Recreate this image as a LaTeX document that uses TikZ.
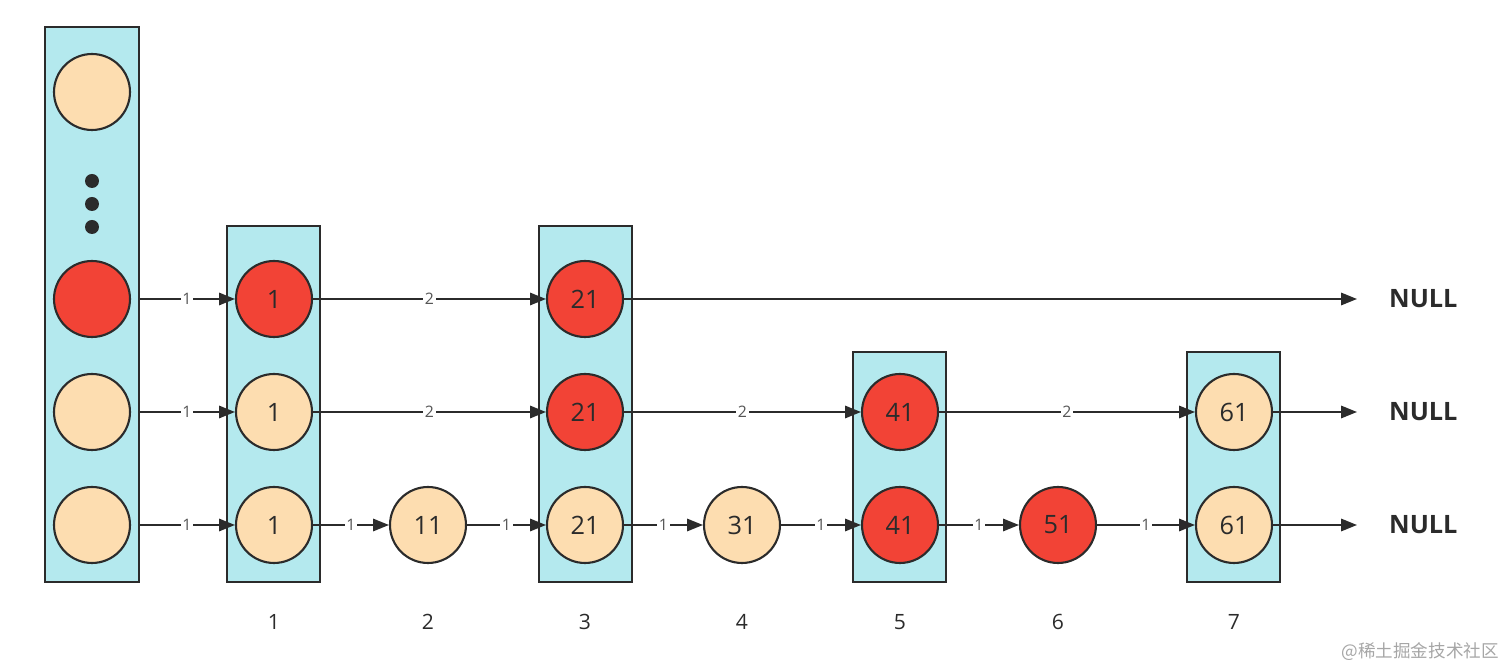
\documentclass[tikz,border=0pt]{standalone}
\usepackage{fontspec}
\setmainfont{Open Sans}
\newfontfamily\cjk{Noto Sans CJK SC}
\usetikzlibrary{arrows.meta}
\definecolor{cy}{HTML}{B4E9EE}
\definecolor{pe}{HTML}{FDDDB0}
\definecolor{rd}{HTML}{F24336}
\definecolor{ln}{HTML}{2B2B2B}
\begin{document}
\begin{tikzpicture}[x=0.02cm,y=-0.02cm,
 col/.style={draw=ln,line width=1.2pt,fill=cy},
 nd/.style={circle,draw=ln,line width=1.2pt,minimum size=1.52cm,inner sep=0pt,font=\Large,text=ln},
 p/.style={nd,fill=pe}, r/.style={nd,fill=rd},
 ar/.style={-{Triangle[length=9pt,width=7pt]},line width=1.1pt,draw=ln},
 lb/.style={fill=white,inner sep=1pt,font=\small,text=ln!80},
 nul/.style={font=\Large\bfseries,text=ln,anchor=west},
 ax/.style={font=\large,text=ln}]
\useasboundingbox (0,0) rectangle (1512,671);
% columns
\draw[col] (45,27) rectangle (139,582);
\draw[col] (227,226) rectangle (320,582);
\draw[col] (539,226) rectangle (632,582);
\draw[col] (853,352) rectangle (946,582);
\draw[col] (1187,352) rectangle (1280,582);
% head
\node[p] (h4) at (92,92) {};
\foreach \yy in {181,204,227} \fill[ln] (92,\yy) circle (7);
\node[r] (h3) at (92,299) {};
\node[p] (h2) at (92,412) {};
\node[p] (h1) at (92,525) {};
% col1
\node[r] (a3) at (274,299) {1};
\node[p] (a2) at (274,412) {1};
\node[p] (a1) at (274,525) {1};
\node[p] (b1) at (428,525) {11};
\node[r] (c3) at (585,299) {21};
\node[r] (c2) at (585,412) {21};
\node[p] (c1) at (585,525) {21};
\node[p] (d1) at (742,525) {31};
\node[r] (e2) at (900,412) {41};
\node[r] (e1) at (900,525) {41};
\node[r] (f1) at (1058,525) {51};
\node[p] (g2) at (1234,412) {61};
\node[p] (g1) at (1234,525) {61};
\coordinate (hr3) at (139,299);\coordinate (hr2) at (139,412);\coordinate (hr1) at (139,525);
\coordinate (n3) at (1357,299);\coordinate (n2) at (1357,412);\coordinate (n1) at (1357,525);
\node[nul] (N3) at (1383,299) {NULL};
\node[nul] (N2) at (1383,412) {NULL};
\node[nul] (N1) at (1383,525) {NULL};
% arrows
\draw[ar] (hr3) -- node[lb]{1} (a3);
\draw[ar] (hr2) -- node[lb]{1} (a2);
\draw[ar] (hr1) -- node[lb]{1} (a1);
\draw[ar] (a3) -- node[lb]{2} (c3);
\draw[ar] (c3) -- (n3);
\draw[ar] (a2) -- node[lb]{2} (c2);
\draw[ar] (c2) -- node[lb]{2} (e2);
\draw[ar] (e2) -- node[lb]{2} (g2);
\draw[ar] (g2) -- (n2);
\draw[ar] (a1) -- node[lb]{1} (b1);
\draw[ar] (b1) -- node[lb]{1} (c1);
\draw[ar] (c1) -- node[lb]{1} (d1);
\draw[ar] (d1) -- node[lb]{1} (e1);
\draw[ar] (e1) -- node[lb]{1} (f1);
\draw[ar] (f1) -- node[lb]{1} (g1);
\draw[ar] (g1) -- (n1);
% axis labels
\node[ax] (x1) at (274,622) {1};
\node[ax] (x2) at (428,622) {2};
\node[ax] (x3) at (585,622) {3};
\node[ax] (x4) at (742,622) {4};
\node[ax] (x5) at (900,622) {5};
\node[ax] (x6) at (1058,622) {6};
\node[ax] (x7) at (1234,622) {7};
\node[font=\cjk\normalsize,text=gray!70,anchor=east] (wm) at (1505,652) {@稀土掘金技术社区};
\end{tikzpicture}
\end{document}
